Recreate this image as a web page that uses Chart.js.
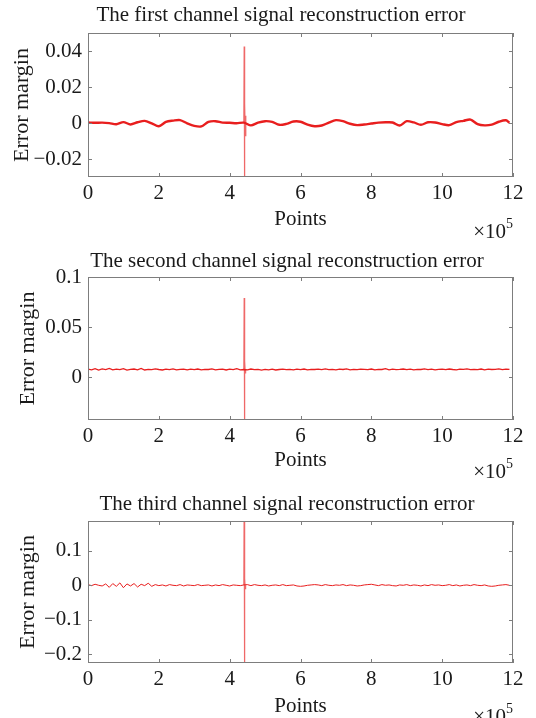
<!DOCTYPE html>
<html>
<head>
<meta charset="utf-8">
<script src="https://cdn.jsdelivr.net/npm/chart.js@4.4.0/dist/chart.umd.min.js"></script>
<style>
  html, body { margin: 0; padding: 0; background: #fff; }
  .plot { position: absolute; left: 0; width: 536px; }
</style>
</head>
<body>
<div class="plot" style="top:0"><canvas id="c1" width="536" height="240"></canvas></div>
<div class="plot" style="top:240px"><canvas id="c2" width="536" height="240"></canvas></div>
<div class="plot" style="top:480px"><canvas id="c3" width="536" height="238"></canvas></div>
<script>
// x in units of 10^5 points
const xTicks = [0, 2, 4, 6, 8, 10, 12];

// channel 1: slow wander around zero
const ch1X = [0, 0.2, 0.4, 0.6, 0.8, 1.0, 1.2, 1.4, 1.6, 1.8, 2.0, 2.2, 2.4, 2.6, 2.8, 3.0, 3.2, 3.4, 3.6, 3.8,
              4.0, 4.2, 4.4, 4.6, 4.8, 5.0, 5.2, 5.4, 5.6, 5.8, 6.0, 6.2, 6.4, 6.6, 6.8, 7.0, 7.2, 7.4, 7.6, 7.8,
              8.0, 8.2, 8.4, 8.6, 8.8, 9.0, 9.2, 9.4, 9.6, 9.8, 10.0, 10.2, 10.4, 10.6, 10.8, 11.0, 11.2, 11.4, 11.6, 11.8, 11.9];
const ch1Y = [0.0003, 0.0001, 0.0002, -0.0001, -0.0007, 0.0005, -0.0008, 0.0004, 0.0012, -0.0002,
              -0.0018, 0.0006, 0.0013, 0.0016, -0.0002, -0.0016, -0.0019, 0.0006, 0.0010, 0.0002,
              0.0001, -0.0001, 0.0002, -0.0013, 0.0002, 0.0010, 0.0006, -0.0010, -0.0005, 0.0008,
              0.0007, -0.0009, -0.0018, -0.0014, 0.0002, 0.0016, 0.0010, -0.0004, -0.0012, -0.0008,
              -0.0003, 0.0002, 0.0004, 0.0003, -0.0014, 0.0010, 0.0003, -0.0010, 0.0004, 0.0003,
              -0.0006, -0.0012, 0.0005, 0.0012, 0.0019, -0.0006, -0.0013, -0.0009, 0.0007, 0.0015, 0.0001];
const spike1X = [4.40, 4.41, 4.415, 4.42, 4.425, 4.43, 4.44, 4.45, 4.46];
const spike1Y = [0.0002, 0.0425, -0.040, 0.003, -0.005, 0.011, -0.007, 0.004, 0.0];

// channels 2 and 3 sampled finer
const fineX = [0, 0.1, 0.2, 0.3, 0.4, 0.5, 0.6, 0.7, 0.8, 0.9, 1.0, 1.1, 1.2, 1.3, 1.4, 1.5, 1.6, 1.7, 1.8, 1.9,
               2.0, 2.1, 2.2, 2.3, 2.4, 2.5, 2.6, 2.7, 2.8, 2.9, 3.0, 3.1, 3.2, 3.3, 3.4, 3.5, 3.6, 3.7, 3.8, 3.9,
               4.0, 4.1, 4.2, 4.3, 4.4, 4.5, 4.6, 4.7, 4.8, 4.9, 5.0, 5.1, 5.2, 5.3, 5.4, 5.5, 5.6, 5.7, 5.8, 5.9,
               6.0, 6.1, 6.2, 6.3, 6.4, 6.5, 6.6, 6.7, 6.8, 6.9, 7.0, 7.1, 7.2, 7.3, 7.4, 7.5, 7.6, 7.7, 7.8, 7.9,
               8.0, 8.1, 8.2, 8.3, 8.4, 8.5, 8.6, 8.7, 8.8, 8.9, 9.0, 9.1, 9.2, 9.3, 9.4, 9.5, 9.6, 9.7, 9.8, 9.9,
               10.0, 10.1, 10.2, 10.3, 10.4, 10.5, 10.6, 10.7, 10.8, 10.9, 11.0, 11.1, 11.2, 11.3, 11.4, 11.5, 11.6, 11.7, 11.8, 11.9];

// channel 2, values x 1e-3
const ch2Y = [7.8, 7.2, 8.3, 7.0, 8.1, 7.4, 8.6, 7.1, 7.9, 7.3,
              8.4, 6.9, 7.6, 8.0, 7.2, 8.5, 7.0, 7.7, 7.3, 8.1,
              7.5, 7.0, 7.9, 7.4, 8.2, 7.1, 7.6, 7.8, 7.2, 7.9,
              7.3, 8.0, 7.1, 7.7, 7.5, 8.1, 7.2, 7.6, 7.9, 7.0,
              7.8, 7.4, 8.3, 7.2, 7.5, 7.1, 8.0, 7.3, 7.7, 6.9,
              7.6, 7.2, 7.8, 7.0, 7.5, 7.9, 7.3, 7.6, 7.1, 7.8,
              7.4, 8.0, 7.2, 7.7, 7.5, 7.9, 7.3, 8.1, 7.4, 7.6,
              7.2, 7.8, 7.5, 8.2, 7.1, 7.7, 7.4, 7.9, 7.6, 7.3,
              8.0, 7.2, 7.7, 7.5, 8.3, 7.1, 7.8, 7.4, 7.6, 8.0,
              7.3, 7.9, 7.2, 7.7, 7.5, 8.1, 7.4, 7.8, 7.1, 7.6,
              7.9, 7.3, 8.0, 7.5, 7.2, 7.8, 7.6, 8.2, 7.3, 7.7,
              7.4, 8.0, 7.2, 7.9, 7.5, 7.7, 8.1, 7.3, 7.8, 7.6];
const spike2X = [4.40, 4.41, 4.415, 4.42, 4.425, 4.43, 4.44, 4.45];
const spike2Y = [0.0075, 0.079, -0.060, 0.012, 0.002, 0.016, 0.004, 0.0075];

// channel 3, values x 1e-3
const ch3Y = [2, -1, 3, 0, -2, 4, -6, 5, -3, 7,
              -7, 4, -2, 5, -5, 3, -1, 6, -3, 2,
              -1, 1, -2, 2, 0, -1, 2, -2, 1, 0,
              -1, 2, -1, 0, 1, -2, 1, -1, 2, 0,
              -2, 1, 0, -1, 1, 2, -1, 2, 0, -1,
              1, -2, 0, 1, -1, 2, -1, 0, 1, -2,
              -3, -2, 0, 1, 2, 1, -1, 2, 0, -1,
              1, 0, 2, -1, 1, 0, -2, -1, 1, 2,
              3, 1, -1, 2, 0, 1, -1, -2, 1, 0,
              2, -1, 1, 0, -2, 1, -1, 2, 0, 1,
              -1, 0, 2, -1, 1, -2, 0, 1, -1, 2,
              0, -1, 1, -2, -3, -2, 0, 1, 2, 0];
const spike3X = [4.40, 4.41, 4.415, 4.42, 4.425, 4.43, 4.44, 4.45];
const spike3Y = [0.0, 0.25, -0.30, 0.038, -0.050, 0.020, -0.010, 0.0];

const FONT = '"Liberation Serif", "Times New Roman", serif';
const FS = 21;
const AXIS = '#7d7d7d';
const RED = 'rgb(232, 30, 30)';

function pts(xs, ys, k) {
  return xs.map((x, i) => ({ x: x, y: ys[i] * k }));
}

function fmt(v) {
  if (v === 0) return '0';
  return v < 0 ? '\u2212' + String(-v) : String(v);
}

// MATLAB-like box, inward ticks, title and x10^5 note
const boxPlugin = {
  id: 'box',
  afterDraw(chart, args, o) {
    const { ctx, chartArea: a, scales: { x, y } } = chart;
    ctx.save();
    ctx.strokeStyle = AXIS;
    ctx.lineWidth = 1;
    ctx.strokeRect(a.left + 0.5, a.top + 0.5, a.right - a.left - 1, a.bottom - a.top - 1);
    ctx.beginPath();
    x.ticks.forEach(t => {
      const px = Math.round(x.getPixelForValue(t.value)) + 0.5;
      ctx.moveTo(px, a.bottom); ctx.lineTo(px, a.bottom - 4);
      ctx.moveTo(px, a.top); ctx.lineTo(px, a.top + 4);
    });
    y.ticks.forEach(t => {
      const py = Math.round(y.getPixelForValue(t.value)) + 0.5;
      ctx.moveTo(a.left, py); ctx.lineTo(a.left + 4, py);
      ctx.moveTo(a.right, py); ctx.lineTo(a.right - 4, py);
    });
    ctx.stroke();

    ctx.fillStyle = '#1a1a1a';
    ctx.textBaseline = 'middle';
    ctx.textAlign = 'center';
    ctx.font = FS + 'px ' + FONT;
    ctx.fillText(o.title, o.titleX, o.titleY);

    ctx.textAlign = 'right';
    ctx.font = '14px ' + FONT;
    const supW = ctx.measureText('5').width;
    ctx.fillText('5', a.right, o.expY - 8);
    ctx.font = FS + 'px ' + FONT;
    ctx.fillText('\u00d710', a.right - supW, o.expY);
    ctx.restore();
  }
};

function makePlot(id, c) {
  const h = document.getElementById(id).height;
  return new Chart(document.getElementById(id), {
    type: 'line',
    data: {
      datasets: [
        { data: c.main, borderColor: RED, borderWidth: c.lw, pointRadius: 0, tension: c.tension, fill: false },
        { data: c.spike, borderColor: 'rgba(232, 40, 40, 0.7)', borderWidth: 1.2, pointRadius: 0, tension: 0, fill: false }
      ]
    },
    options: {
      responsive: false,
      animation: false,
      devicePixelRatio: 1,
      layout: { padding: { left: 0, right: 23, top: c.top, bottom: 0 } },
      plugins: {
        legend: { display: false },
        tooltip: { enabled: false },
        box: { title: c.title, titleX: c.titleX, titleY: c.titleY, expY: c.expY }
      },
      scales: {
        x: {
          type: 'linear',
          min: 0, max: 12,
          afterBuildTicks: s => { s.ticks = xTicks.map(v => ({ value: v })); },
          afterFit: s => { s.height = h - c.bottom; },
          grid: { display: false, drawTicks: false },
          border: { display: false },
          ticks: { padding: 4, color: '#1a1a1a', font: { family: FONT, size: FS }, maxRotation: 0, callback: v => fmt(v) },
          title: { display: true, text: 'Points', color: '#1a1a1a', font: { family: FONT, size: FS },
                   padding: { top: 0, bottom: c.xtPad } }
        },
        y: {
          min: c.ymin, max: c.ymax,
          afterBuildTicks: s => { s.ticks = c.yTicks.map(v => ({ value: v })); },
          afterFit: s => { s.width = 88; },
          grid: { display: false, drawTicks: false },
          border: { display: false },
          ticks: { padding: 6, color: '#1a1a1a', font: { family: FONT, size: FS }, callback: v => fmt(v) },
          title: { display: true, text: 'Error margin', color: '#1a1a1a', font: { family: FONT, size: 22 },
                   padding: { top: c.ytPad, bottom: 0 } }
        }
      }
    },
    plugins: [boxPlugin]
  });
}

makePlot('c1', {
  main: pts(ch1X, ch1Y, 1), spike: pts(spike1X, spike1Y, 1), lw: 2.4, tension: 0.3,
  title: 'The first channel signal reconstruction error', titleX: 281, titleY: 15,
  top: 33, bottom: 177, ymin: -0.03, ymax: 0.05, yTicks: [-0.02, 0, 0.02, 0.04],
  xtPad: 8.4, ytPad: 8.8, expY: 232
});
makePlot('c2', {
  main: pts(fineX, ch2Y, 0.001), spike: pts(spike2X, spike2Y, 1), lw: 1.3, tension: 0,
  title: 'The second channel signal reconstruction error', titleX: 287, titleY: 21,
  top: 37, bottom: 180, ymin: -0.043, ymax: 0.1, yTicks: [0, 0.05, 0.1],
  xtPad: 7.4, ytPad: 14.8, expY: 232
});
makePlot('c3', {
  main: pts(fineX, ch3Y, 0.001), spike: pts(spike3X, spike3Y, 1), lw: 1.0, tension: 0,
  title: 'The third channel signal reconstruction error', titleX: 287, titleY: 24,
  top: 41, bottom: 183, ymin: -0.226, ymax: 0.187, yTicks: [-0.2, -0.1, 0, 0.1],
  xtPad: -1.5, ytPad: 14.8, expY: 237
});
</script>
</body>
</html>
